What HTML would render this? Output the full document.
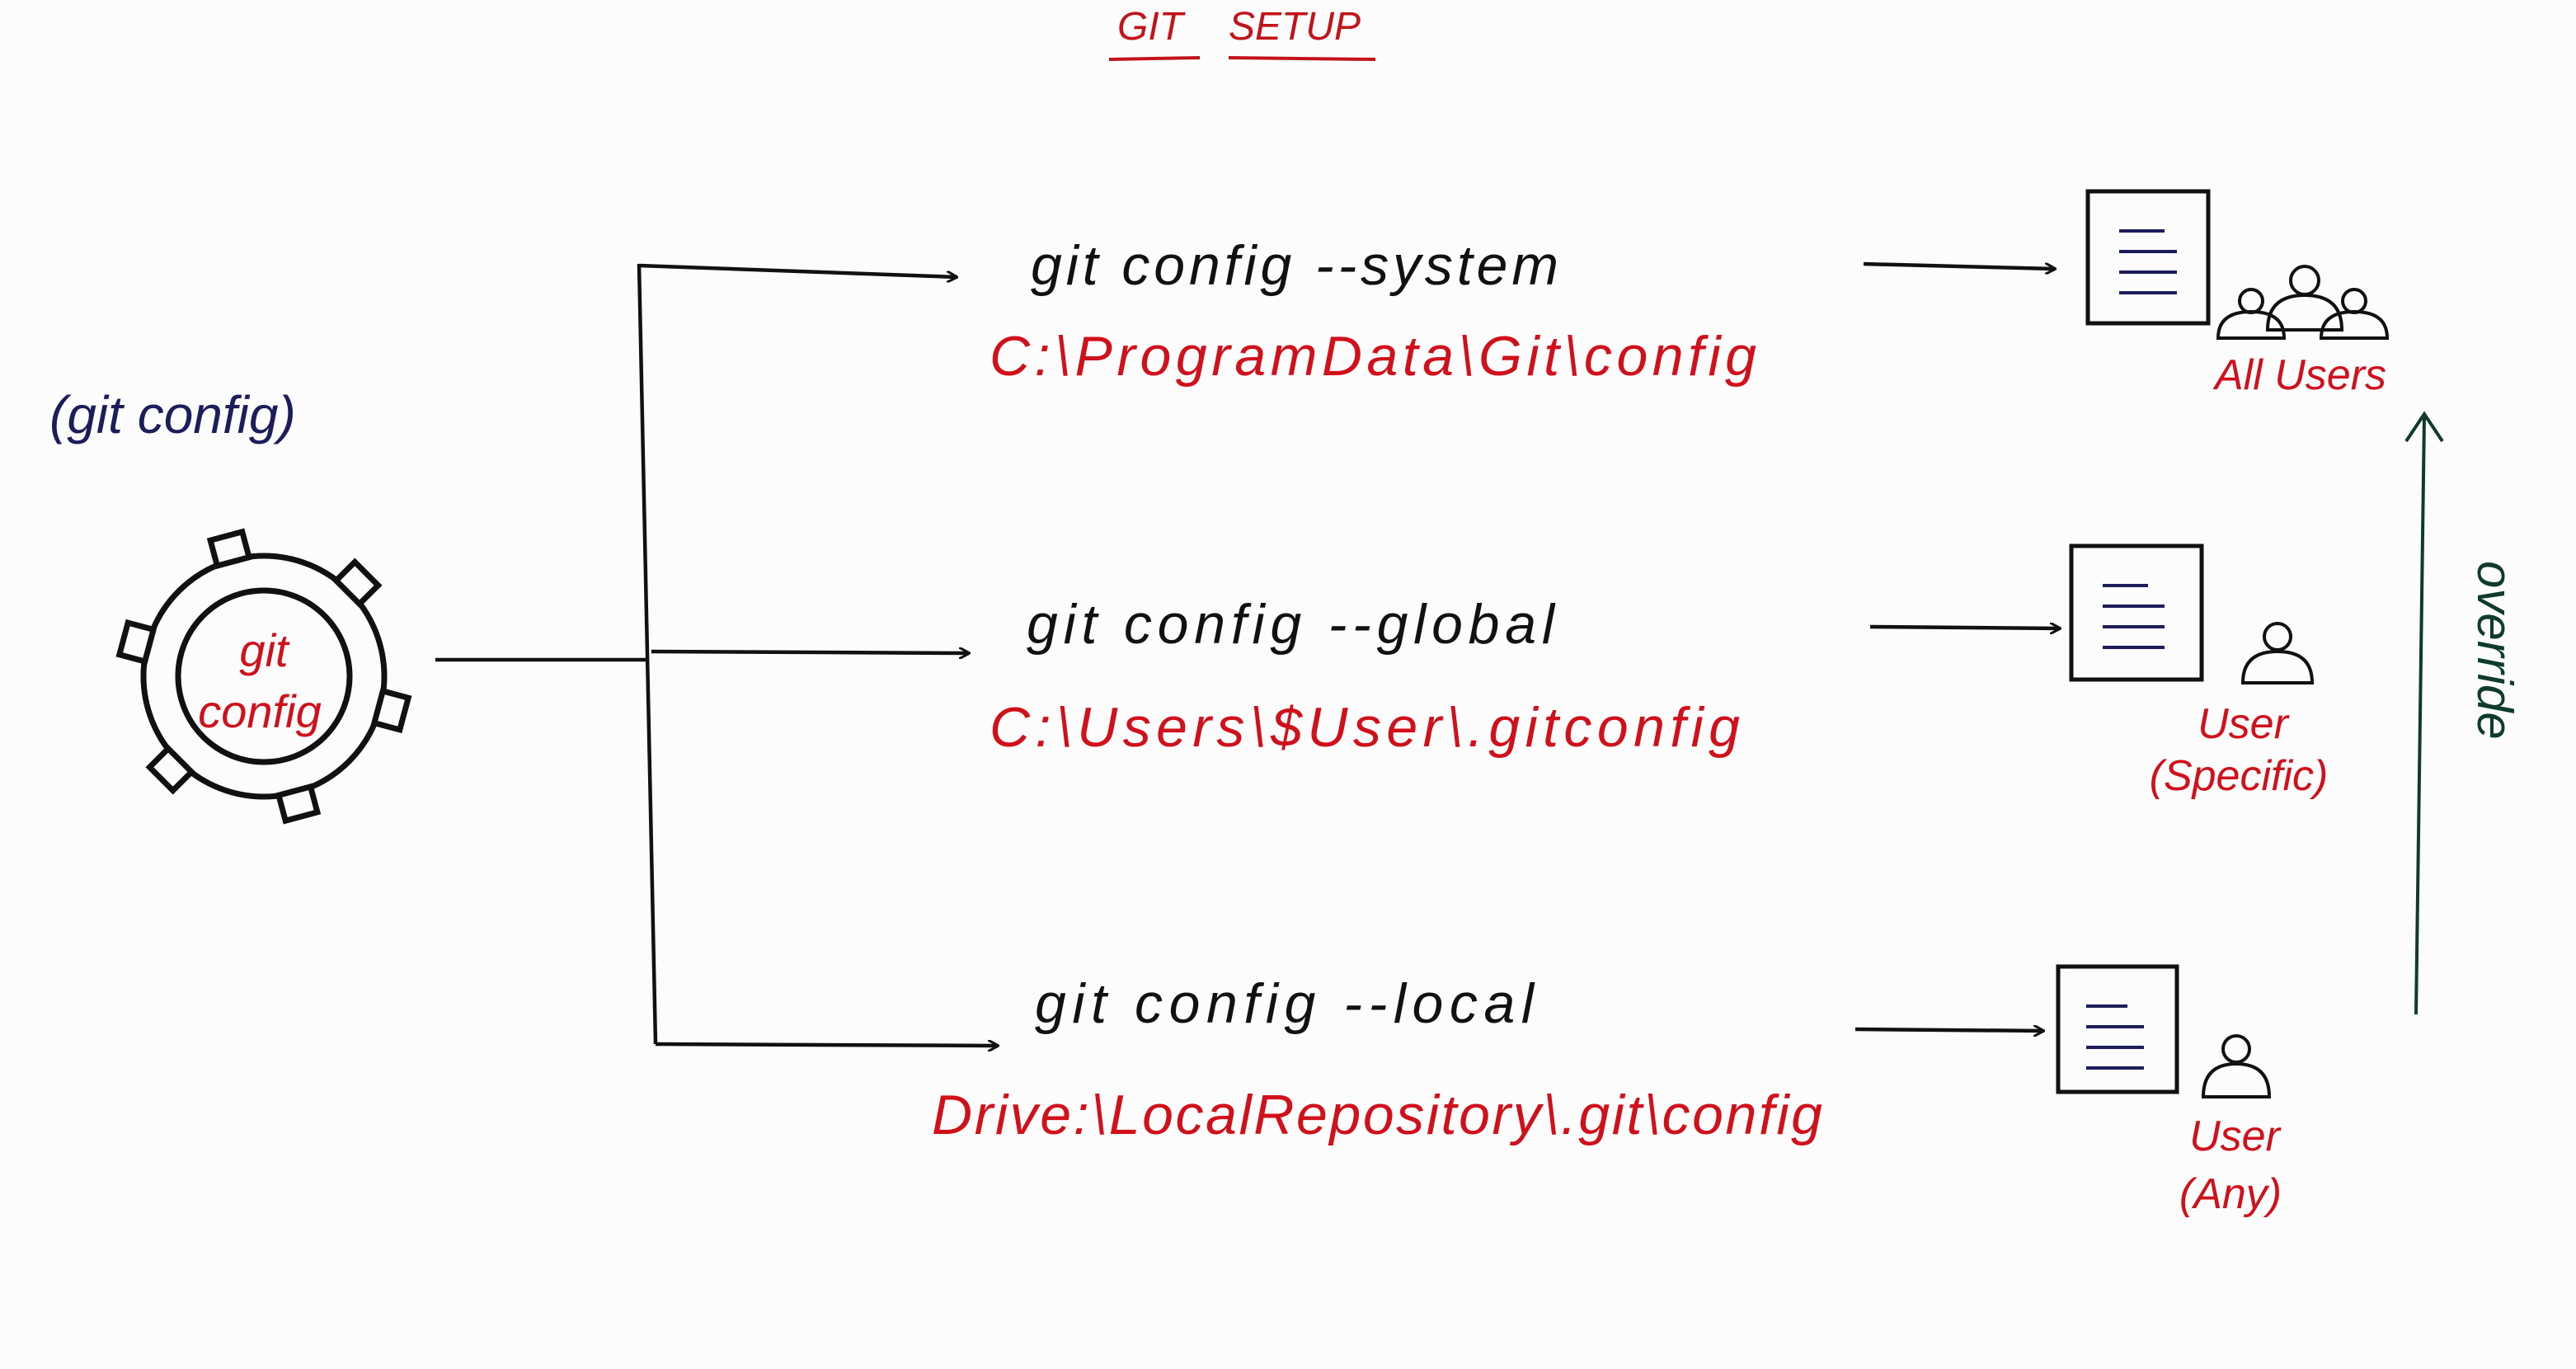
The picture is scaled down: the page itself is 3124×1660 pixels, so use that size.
<!DOCTYPE html>
<html><head><meta charset="utf-8"><style>
html,body{margin:0;padding:0;background:#fdfdfd;}
svg{display:block}
</style></head><body>
<svg width="3124" height="1660" viewBox="0 0 3124 1660" xmlns="http://www.w3.org/2000/svg">
<rect width="3124" height="1660" fill="#fcfcfc"/>
<defs>
<marker id="ah" markerWidth="14" markerHeight="14" refX="12" refY="7" orient="auto" markerUnits="userSpaceOnUse">
<path d="M0,0 L13,7 L0,14" fill="none" stroke="#111" stroke-width="3"/></marker>
</defs>
<g font-family="Liberation Sans, sans-serif" font-style="italic">
<text x="1355" y="48" font-size="48" fill="#c2121a">GIT</text>
<text x="1490" y="48" font-size="48" fill="#c2121a">SETUP</text>
<line x1="1345" y1="72" x2="1455" y2="70" stroke="#c2121a" stroke-width="4"/>
<line x1="1490" y1="70" x2="1668" y2="72" stroke="#c2121a" stroke-width="4"/>

<text x="60" y="525" font-size="64" fill="#1d1d5c">(git config)</text>

<g stroke="#111" stroke-width="7" fill="none">
<circle cx="320" cy="820" r="146"/>
<circle cx="320" cy="820" r="104"/>
<g transform="translate(320,820)">
<rect x="-20" y="-176" width="40" height="32" transform="rotate(-15)" fill="#fcfcfc"/>
<rect x="-20" y="-176" width="40" height="32" transform="rotate(45)" fill="#fcfcfc"/>
<rect x="-20" y="-176" width="40" height="32" transform="rotate(105)" fill="#fcfcfc"/>
<rect x="-20" y="-176" width="40" height="32" transform="rotate(165)" fill="#fcfcfc"/>
<rect x="-20" y="-176" width="40" height="32" transform="rotate(225)" fill="#fcfcfc"/>
<rect x="-20" y="-176" width="40" height="32" transform="rotate(285)" fill="#fcfcfc"/>
</g>
</g>
<text x="320" y="808" font-size="56" fill="#d0101a" text-anchor="middle">git</text>
<text x="315" y="882" font-size="56" fill="#d0101a" text-anchor="middle">config</text>

<g stroke="#111" stroke-width="4.5" fill="none">
<line x1="528" y1="800" x2="785" y2="800"/>
<line x1="775" y1="320" x2="795" y2="1266"/>
<line x1="775" y1="322" x2="1160" y2="336" marker-end="url(#ah)"/>
<line x1="790" y1="790" x2="1175" y2="792" marker-end="url(#ah)"/>
<line x1="795" y1="1266" x2="1210" y2="1268" marker-end="url(#ah)"/>
<line x1="2260" y1="320" x2="2492" y2="326" marker-end="url(#ah)"/>
<line x1="2268" y1="760" x2="2498" y2="762" marker-end="url(#ah)"/>
<line x1="2250" y1="1248" x2="2478" y2="1250" marker-end="url(#ah)"/>
</g>

<g font-size="68">
<text x="1250" y="345" fill="#111" textLength="640">git config --system</text>
<text x="1200" y="455" fill="#d0101a" textLength="930">C:\ProgramData\Git\config</text>
<text x="1245" y="780" fill="#111" textLength="640">git config --global</text>
<text x="1200" y="905" fill="#d0101a" textLength="910">C:\Users\$User\.gitconfig</text>
<text x="1255" y="1240" fill="#111" textLength="605">git config --local</text>
<text x="1130" y="1375" fill="#d0101a" textLength="1080">Drive:\LocalRepository\.git\config</text>
</g>

<g stroke="#111" stroke-width="5" fill="none">
<rect x="2532" y="232" width="146" height="160"/>
<rect x="2512" y="662" width="158" height="162"/>
<rect x="2496" y="1172" width="144" height="152"/>
</g>
<g stroke="#1d1d5c" stroke-width="4">
<line x1="2570" y1="280" x2="2625" y2="280"/><line x1="2570" y1="305" x2="2640" y2="305"/><line x1="2570" y1="330" x2="2640" y2="330"/><line x1="2570" y1="355" x2="2640" y2="355"/>
<line x1="2550" y1="710" x2="2605" y2="710"/><line x1="2550" y1="735" x2="2625" y2="735"/><line x1="2550" y1="760" x2="2625" y2="760"/><line x1="2550" y1="785" x2="2625" y2="785"/>
<line x1="2530" y1="1220" x2="2580" y2="1220"/><line x1="2530" y1="1245" x2="2600" y2="1245"/><line x1="2530" y1="1270" x2="2600" y2="1270"/><line x1="2530" y1="1295" x2="2600" y2="1295"/>
</g>
<g stroke="#111" stroke-width="4" fill="none">
<circle cx="2730" cy="365" r="14"/><path d="M2690,410 Q2690,378 2730,378 Q2770,378 2770,410 Z"/>
<circle cx="2795" cy="340" r="17"/><path d="M2750,400 Q2750,358 2795,358 Q2840,358 2840,400 Z"/>
<circle cx="2855" cy="365" r="14"/><path d="M2815,410 Q2815,378 2855,378 Q2895,378 2895,410 Z"/>
<circle cx="2762" cy="772" r="16"/><path d="M2720,828 Q2720,790 2762,790 Q2804,790 2804,828 Z"/>
<circle cx="2712" cy="1272" r="16"/><path d="M2672,1330 Q2672,1290 2712,1290 Q2752,1290 2752,1330 Z"/>
</g>
<g font-size="52" fill="#d0101a" text-anchor="middle">
<text x="2790" y="472">All Users</text>
<text x="2720" y="895">User</text>
<text x="2715" y="958">(Specific)</text>
<text x="2710" y="1395">User</text>
<text x="2705" y="1465">(Any)</text>
</g>
<line x1="2930" y1="1230" x2="2940" y2="505" stroke="#0f3b2a" stroke-width="4"/>
<path d="M2918,535 L2940,502 L2962,535" fill="none" stroke="#0f3b2a" stroke-width="4"/>
<text transform="translate(3005,680) rotate(90)" font-size="60" fill="#0f3b2a">override</text>
</g>
</svg>
</body></html>
